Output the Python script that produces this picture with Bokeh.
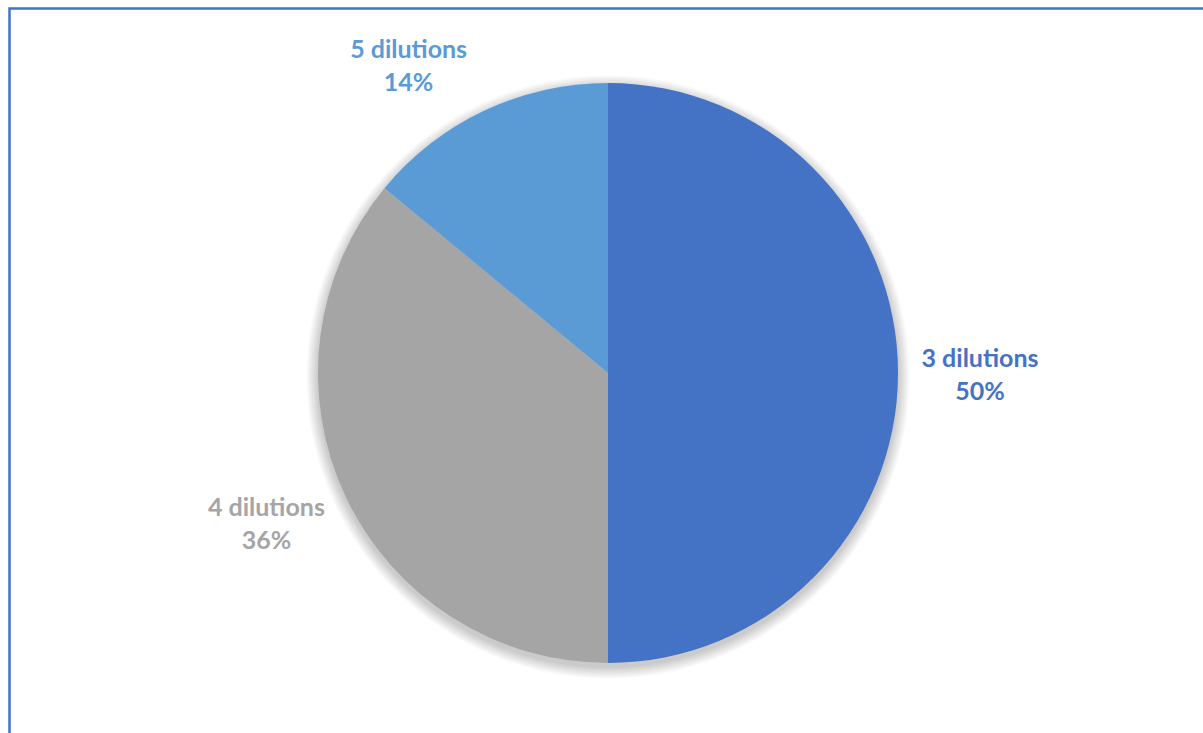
import math
from bokeh.plotting import figure
from bokeh.models import Range1d, ColumnDataSource
from bokeh.core.properties import value
from bokeh.embed import file_html
from bokeh.resources import INLINE

categories = ["3 dilutions", "4 dilutions", "5 dilutions"]
shares = [50, 36, 14]
colors = ["#4472C4", "#A5A5A5", "#5B9BD5"]

W, H = 1203, 733
p = figure(width=W, height=H, output_backend="svg", toolbar_location=None,
           x_range=Range1d(0, W), y_range=Range1d(0, H), min_border=0)
p.axis.visible = False
p.grid.visible = False
p.outline_line_color = None
p.background_fill_color = "white"
p.border_fill_color = "white"

cx, cy, r = 607.5, 360.5, 290

# soft shadow
for i in range(1, 14):
    p.circle(x=[cx], y=[cy - 4], radius=r + i * 0.9, fill_color="black",
             fill_alpha=0.016, line_color=None)

total = sum(shares)
starts, ends, mids = [], [], []
a = math.pi / 2
for s in shares:
    sweep = 2 * math.pi * s / total
    starts.append(a - sweep)
    ends.append(a)
    mids.append(a - sweep / 2)
    a -= sweep

src = ColumnDataSource(dict(start=starts, end=ends, color=colors))
p.wedge(x=cx, y=cy, radius=r, start_angle="start", end_angle="end",
        fill_color="color", line_color=None, source=src)

label_r = 372
nudge = [(0, 0), (-5, 9), (-41, -28)]
for cat, s, col, m, (dx, dy) in zip(categories, shares, colors, mids, nudge):
    lx = cx + label_r * math.cos(m) + dx
    ly = cy + label_r * math.sin(m) + dy
    for txt, off in ((cat, 16.5), (f"{s}%", -16.5)):
        p.text(x=[lx], y=[ly + off], text=[txt], text_color=col, text_align="center",
               text_baseline="middle", text_font=value("Lato"), text_font_style="bold",
               text_font_size="25px")

# chart frame (left and top edges visible)
p.line(x=[9, 9, W + 10], y=[-10, H - 8, H - 8], line_color="#4472C4",
       line_width=2.5, line_join="miter")

open("out.html", "w").write(file_html(p, INLINE))
